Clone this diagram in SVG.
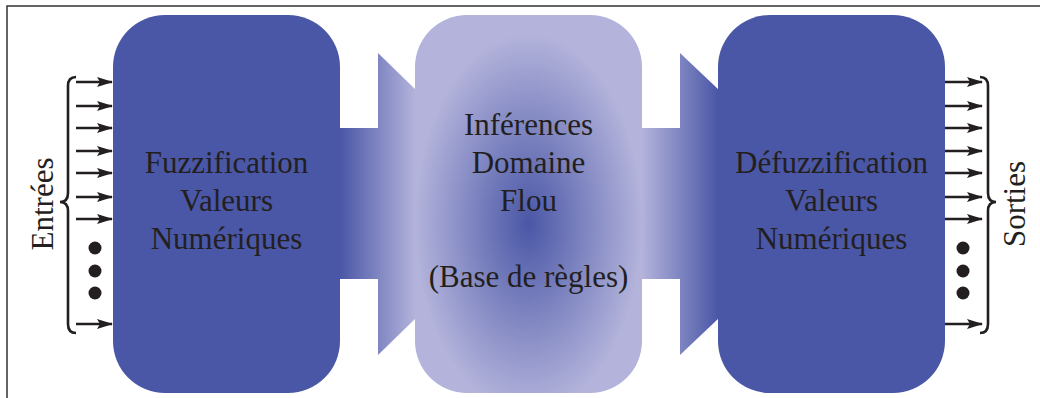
<svg xmlns="http://www.w3.org/2000/svg" width="1040" height="398" viewBox="0 0 1040 398">
<style>
.box{fill:#4a57a6}
.lbl{font-family:"Liberation Serif","Times New Roman",serif;font-size:31px;fill:#231f20;text-anchor:middle}
.arr{stroke:#231f20;stroke-width:2.4;fill:none;marker-end:url(#ah)}
.brace{stroke:#231f20;stroke-width:2.6;fill:none}
.dot{fill:#231f20}
.frame{stroke:#333;stroke-width:1.5;fill:none}
</style>
<defs>
<marker id="ah" viewBox="0 0 16 11" refX="15" refY="5.5" markerWidth="16" markerHeight="11" markerUnits="userSpaceOnUse" orient="auto">
<path d="M0,0.5 L16,5.5 L0,10.5 L3,5.5 Z" fill="#231f20"/>
</marker>
<linearGradient id="gL" gradientUnits="userSpaceOnUse" x1="340" y1="0" x2="415" y2="0">
<stop offset="0" stop-color="#4a57a6"/>
<stop offset="1" stop-color="#b3b3db"/>
</linearGradient>
<linearGradient id="gR" gradientUnits="userSpaceOnUse" x1="642" y1="0" x2="718" y2="0">
<stop offset="0" stop-color="#b3b3db"/>
<stop offset="1" stop-color="#4a57a6"/>
</linearGradient>
<radialGradient id="gM" cx="0.5" cy="0.55" r="0.5">
<stop offset="0" stop-color="#4a57a6"/>
<stop offset="1" stop-color="#b3b3db"/>
</radialGradient>
</defs>
<path class="frame" d="M7,398 V6 H1040"/>
<g id="connectors">
<rect x="339" y="128" width="40" height="151" fill="url(#gL)"/>
<polygon points="378,53 416,90 416,318 378,355" fill="url(#gL)"/>
<rect x="641" y="128" width="40" height="151" fill="url(#gR)"/>
<polygon points="680,53 719,90 719,318 680,355" fill="url(#gR)"/>
</g>
<g id="inputs">
<path class="arr" d="M76,82 H112"/>
<path class="arr" d="M76,106 H112"/>
<path class="arr" d="M76,128 H112"/>
<path class="arr" d="M76,151 H112"/>
<path class="arr" d="M76,173 H112"/>
<path class="arr" d="M76,197 H112"/>
<path class="arr" d="M76,219 H112"/>
<path class="arr" d="M76,324 H112"/>
<circle class="dot" cx="95" cy="248" r="6.5"/>
<circle class="dot" cx="95" cy="271" r="6.5"/>
<circle class="dot" cx="95" cy="293" r="6.5"/>
<path class="brace" d="M76,77 Q68,77 68,86 V193 Q68,202 60,202 Q68,202 68,211 V324 Q68,333 76,333"/>
<text class="lbl" transform="translate(53,204) rotate(-90)">Entrées</text>
</g>
<g id="outputs">
<path class="arr" d="M945,82 H982"/>
<path class="arr" d="M945,106 H982"/>
<path class="arr" d="M945,128 H982"/>
<path class="arr" d="M945,151 H982"/>
<path class="arr" d="M945,173 H982"/>
<path class="arr" d="M945,197 H982"/>
<path class="arr" d="M945,219 H982"/>
<path class="arr" d="M945,324 H982"/>
<circle class="dot" cx="963" cy="248" r="6.5"/>
<circle class="dot" cx="963" cy="271" r="6.5"/>
<circle class="dot" cx="963" cy="293" r="6.5"/>
<path class="brace" d="M980,77 Q988,77 988,86 V193 Q988,202 996,202 Q988,202 988,211 V324 Q988,333 980,333"/>
<text class="lbl" transform="translate(1025,204) rotate(-90)">Sorties</text>
</g>
<g id="fuzzification">
<rect class="box" x="113" y="15" width="227" height="378" rx="52" ry="52"/>
<text class="lbl" x="226.5" y="173">Fuzzification</text>
<text class="lbl" x="226.5" y="211">Valeurs</text>
<text class="lbl" x="226.5" y="249">Numériques</text>
</g>
<g id="inference">
<rect x="415" y="15" width="227" height="378" rx="52" ry="52" fill="url(#gM)"/>
<text class="lbl" x="528.5" y="135">Inférences</text>
<text class="lbl" x="528.5" y="173">Domaine</text>
<text class="lbl" x="528.5" y="211">Flou</text>
<text class="lbl" x="528.5" y="287">(Base de règles)</text>
</g>
<g id="defuzzification">
<rect class="box" x="718" y="15" width="227" height="378" rx="52" ry="52"/>
<text class="lbl" x="831.5" y="173">Défuzzification</text>
<text class="lbl" x="831.5" y="211">Valeurs</text>
<text class="lbl" x="831.5" y="249">Numériques</text>
</g>
</svg>
